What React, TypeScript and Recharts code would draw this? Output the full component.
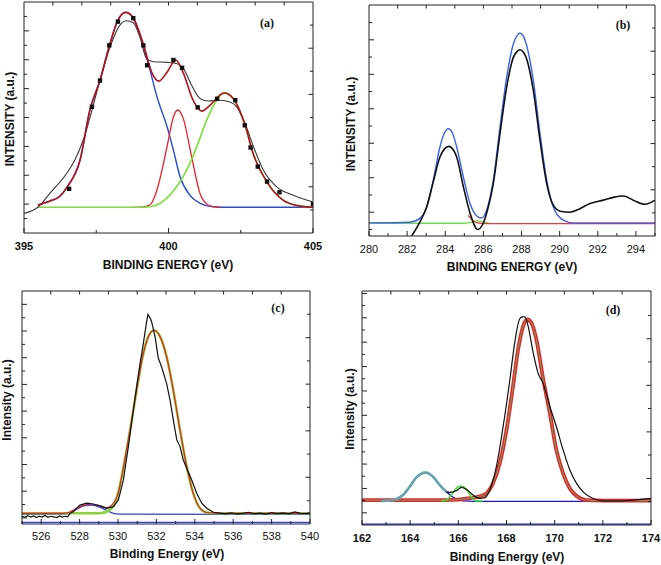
import React from 'react';
import { LineChart, Line, XAxis, YAxis, ReferenceLine } from 'recharts';

const W = 661;
const H = 565;
const FONT = 'Arial, "Liberation Sans", Helvetica, sans-serif';
const SERIF = '"Times New Roman", "Liberation Serif", serif';

// ---------------- (a) ----------------
const aEnvX = [395.48, 395.9, 396.25, 396.49, 396.94, 397.28, 397.63, 397.98, 398.25, 398.52, 398.77, 399.12, 399.43, 399.67, 399.95, 400.25, 400.5, 400.85, 401.15, 401.44, 401.92, 402.23, 402.65, 402.92, 403.41, 403.96, 404.55, 405.0];
const aEnvY = [0.97, 1.11, 1.28, 1.59, 2.53, 4.26, 5.29, 6.57, 7.37, 7.64, 7.47, 6.57, 5.54, 5.26, 5.57, 5.99, 5.57, 4.6, 4.22, 4.43, 4.85, 4.67, 3.74, 2.77, 1.76, 1.14, 0.93, 0.89];
const aBlueX = [395.48, 395.9, 396.25, 396.49, 396.94, 397.28, 397.63, 397.98, 398.25, 398.52, 398.77, 399.12, 399.36, 399.6, 399.95, 400.17, 400.4, 400.74, 401.09, 401.54, 402.0, 403.0, 404.0, 405.0];
const aBlueY = [0.97, 1.11, 1.28, 1.59, 2.53, 4.26, 5.29, 6.57, 7.37, 7.64, 7.45, 6.51, 5.64, 4.72, 3.68, 2.87, 1.95, 1.31, 1.03, 0.91, 0.89, 0.89, 0.89, 0.89];
const aRedX = [398.7, 398.94, 399.36, 399.6, 399.95, 400.17, 400.32, 400.51, 400.8, 401.09, 401.33, 401.54, 401.8];
const aRedY = [0.89, 0.89, 0.97, 1.49, 2.99, 4.02, 4.26, 3.97, 2.64, 1.37, 1.0, 0.91, 0.89];
const aGreenX = [395.5, 399.0, 399.4, 399.71, 400.28, 400.63, 400.98, 401.32, 401.67, 401.93, 402.24, 402.65, 402.93, 403.4, 403.97, 404.55, 405.0];
const aGreenY = [0.89, 0.89, 0.92, 1.03, 1.6, 2.18, 2.99, 3.91, 4.6, 4.86, 4.66, 3.74, 2.76, 1.78, 1.14, 0.93, 0.89];
const aBlackX = [395.0, 395.5, 395.9, 396.48, 396.76, 397.05, 397.63, 397.98, 398.32, 398.55, 398.78, 399.01, 399.24, 399.48, 399.94, 400.28, 400.51, 400.8, 401.09, 401.38, 401.78, 402.13, 402.36, 402.65, 402.94, 403.28, 403.74, 404.32, 404.98];
const aBlackY = [0.68, 0.91, 1.38, 2.07, 2.53, 3.22, 5.29, 6.45, 7.2, 7.35, 7.28, 6.79, 6.04, 5.93, 5.91, 5.87, 5.7, 5.12, 4.66, 4.57, 4.6, 4.54, 4.37, 3.79, 2.99, 2.18, 1.6, 1.31, 1.08];
const aDotX = [396.56, 397.35, 397.63, 397.95, 398.25, 398.78, 399.13, 399.26, 400.17, 400.47, 401.01, 401.68, 402.31, 402.64, 402.84, 403.09, 403.41, 403.84, 405.0];
const aDotY = [1.53, 4.37, 5.28, 6.5, 7.32, 7.44, 6.5, 5.81, 5.99, 5.72, 4.35, 4.65, 4.6, 3.73, 2.96, 2.3, 1.78, 1.41, 1.0];
const aBottomTicks = [395, 397.5, 400, 402.5, 405];
const aTopTicks = [396, 397, 398, 399, 400, 401, 402, 403, 404];
const aLeftTicks = [0.5, 1, 1.5, 2, 2.5, 3, 3.5, 4, 4.5, 5, 5.5, 6, 6.5, 7, 7.5];
const aRightTicks = [0.8, 1.6, 2.4, 3.2, 4.0, 4.8, 5.6, 6.4, 7.2];

// ---------------- (b) ----------------
const bBlueX = [280, 282.15, 282.67, 283.03, 283.37, 283.72, 283.95, 284.16, 284.38, 284.6, 284.95, 285.3, 285.65, 285.91, 286.17, 286.52, 286.87, 287.22, 287.57, 287.75, 287.92, 288.1, 288.27, 288.62, 288.97, 289.32, 289.66, 290.19, 290.71, 295];
const bBlueY = [0.38, 0.4, 0.51, 0.85, 1.62, 2.58, 2.98, 3.11, 2.98, 2.58, 1.71, 0.94, 0.58, 0.52, 0.75, 1.62, 3.16, 4.6, 5.57, 5.8, 5.88, 5.8, 5.52, 4.51, 2.97, 1.62, 0.85, 0.46, 0.38, 0.38];
const bBlackX = [282.24, 282.67, 283.03, 283.37, 283.72, 283.95, 284.19, 284.42, 284.6, 284.95, 285.3, 285.7, 285.99, 286.26, 286.52, 286.87, 287.22, 287.57, 287.75, 287.92, 288.1, 288.27, 288.62, 288.97, 289.32, 289.66, 290.02, 290.54, 290.98, 291.59, 292.29, 292.81, 293.34, 293.86, 294.47, 295.0];
const bBlackY = [0.0, 0.41, 0.85, 1.57, 2.29, 2.52, 2.6, 2.5, 2.29, 1.43, 0.66, 0.19, 0.37, 0.85, 1.52, 2.97, 4.32, 5.18, 5.34, 5.4, 5.33, 5.13, 4.22, 2.77, 1.52, 0.9, 0.72, 0.69, 0.77, 0.94, 1.04, 1.12, 1.16, 1.04, 0.92, 1.04];
const bGreenX = [280, 285.0, 285.4, 285.65, 285.9, 286.3];
const bGreenY = [0.37, 0.37, 0.4, 0.44, 0.42, 0.37];
const bRedX = [285.2, 285.45, 285.7, 286.0, 290.8, 295];
const bRedY = [0.6, 0.45, 0.38, 0.36, 0.36, 0.36];
const bBottomTicks = [280, 281, 282, 283, 284, 285, 286, 287, 288, 289, 290, 291, 292, 293, 294, 295];
const bTopTicks = [281.5, 283, 284.5, 286, 287.5, 289, 290.5, 292, 293.5];
const bLeftTicks = [0.19, 0.69, 1.19, 1.69, 2.19, 2.69, 3.19, 3.69, 4.19, 4.69, 5.19, 5.69, 6.19];
const bRightTicks = [0.67, 1.34, 2.01, 2.68, 3.35, 4.02, 4.69, 5.36, 6.03];

// ---------------- (c) ----------------
const cBlackX = [525.0, 525.15, 525.3, 525.45, 525.6, 525.75, 525.9, 526.05, 526.2, 526.35, 526.5, 526.65, 526.8, 526.95, 527.1, 527.25, 527.38, 527.5, 527.67, 528.02, 528.37, 528.72, 529.06, 529.41, 529.76, 530.02, 530.28, 530.54, 530.8, 530.97, 531.15, 531.32, 531.49, 531.56, 531.63, 531.7, 531.75, 531.93, 532.1, 532.27, 532.53, 532.71, 532.88, 533.06, 533.23, 533.4, 533.58, 533.84, 534.1, 534.36, 534.62, 534.97, 535.3, 535.6, 535.9, 536.2, 536.5, 536.8, 537.1, 537.4, 537.7, 538.0, 538.3, 538.6, 538.9, 539.2, 539.5, 539.8, 540.0];
const cBlackY = [0.06, 0.02, 0.08, 0.03, 0.07, 0.01, 0.06, 0.03, 0.09, 0.02, 0.06, 0.04, 0.01, 0.07, 0.03, 0.06, 0.04, 0.17, 0.23, 0.48, 0.55, 0.52, 0.45, 0.36, 0.42, 0.67, 1.42, 2.67, 4.04, 4.92, 5.79, 6.54, 7.35, 7.62, 7.54, 7.45, 7.35, 6.79, 5.98, 5.66, 5.04, 4.42, 3.67, 2.92, 2.67, 2.17, 1.86, 1.42, 0.92, 0.55, 0.36, 0.21, 0.18, 0.15, 0.19, 0.14, 0.17, 0.21, 0.15, 0.18, 0.14, 0.2, 0.16, 0.19, 0.15, 0.22, 0.17, 0.16, 0.19];
const cGreenX = [525, 529.06, 529.58, 529.93, 530.28, 530.63, 530.97, 531.32, 531.58, 531.88, 532.19, 532.53, 532.88, 533.23, 533.58, 533.92, 534.27, 534.62, 535.2, 540];
const cGreenY = [0.17, 0.17, 0.3, 0.73, 1.86, 3.29, 4.78, 6.16, 6.79, 7.03, 6.79, 6.04, 4.78, 3.29, 1.92, 0.92, 0.36, 0.2, 0.17, 0.17];
const cRedX = [525, 527.15, 527.41, 527.85, 528.28, 528.63, 529.06, 529.41, 529.76, 530.02, 530.28, 530.63, 530.97, 531.32, 531.58, 531.88, 532.19, 532.53, 532.88, 533.23, 533.58, 533.92, 534.27, 534.62, 535.2, 540];
const cRedY = [0.17, 0.17, 0.2, 0.36, 0.49, 0.51, 0.45, 0.38, 0.55, 0.95, 1.9, 3.3, 4.78, 6.16, 6.79, 7.03, 6.79, 6.04, 4.78, 3.29, 1.92, 0.92, 0.36, 0.2, 0.17, 0.17];
const cBlueX = [525, 527.33, 527.6, 527.85, 528.28, 528.63, 529.06, 529.41, 529.76, 530.1, 540];
const cBlueY = [0.13, 0.14, 0.22, 0.33, 0.46, 0.48, 0.4, 0.28, 0.17, 0.14, 0.13];
const cBottomTicks = [525, 526, 527, 528, 529, 530, 531, 532, 533, 534, 535, 536, 537, 538, 539, 540];
const cTopTicks = [526.5, 528, 529.5, 531, 532.5, 534, 535.5, 537, 538.5];
const cLeftTicks = [0, 0.5, 1, 1.5, 2, 2.5, 3, 3.5, 4, 4.5, 5, 5.5, 6, 6.5, 7, 7.5, 8];
const cRightTicks = [0.64, 1.52, 2.39, 3.26, 4.14, 5.01, 5.88, 6.75, 7.63];

// ---------------- (d) ----------------
const dTealX = [162.8, 163.29, 163.7, 163.98, 164.26, 164.45, 164.63, 164.8, 164.95, 165.23, 165.5];
const dTealY = [0.49, 0.52, 0.73, 1.07, 1.45, 1.6, 1.65, 1.6, 1.48, 1.14, 0.86];
const dBlueX = [162, 163.0, 163.29, 163.7, 163.98, 164.26, 164.45, 164.63, 164.8, 164.95, 165.23, 165.5, 165.64, 165.92, 166.2, 166.6, 174];
const dBlueY = [0.47, 0.48, 0.52, 0.73, 1.07, 1.45, 1.6, 1.65, 1.6, 1.48, 1.14, 0.86, 0.74, 0.56, 0.49, 0.47, 0.47];
const dGreenX = [165.3, 165.5, 165.71, 165.92, 166.0, 166.1, 166.2, 166.34, 166.54, 166.75, 167.0];
const dGreenY = [0.49, 0.52, 0.73, 1.0, 1.07, 1.1, 1.07, 0.96, 0.66, 0.49, 0.49];
const dRedX = [162, 165.5, 166.0, 166.5, 166.9, 167.17, 167.44, 167.72, 168.0, 168.27, 168.48, 168.69, 168.86, 169.04, 169.24, 169.52, 169.8, 170.07, 170.35, 170.63, 170.91, 171.32, 172, 174];
const dRedY = [0.52, 0.52, 0.54, 0.6, 0.68, 0.8, 1.21, 2.03, 3.4, 5.19, 6.69, 7.65, 7.93, 7.79, 7.11, 5.5, 4.09, 2.58, 1.62, 1.0, 0.69, 0.52, 0.5, 0.5];
const dBlackX = [165.5, 165.64, 165.92, 166.13, 166.34, 166.61, 166.89, 167.1, 167.3, 167.58, 167.86, 168.14, 168.34, 168.55, 168.66, 168.76, 168.9, 169.11, 169.31, 169.52, 169.8, 170.07, 170.35, 170.63, 170.91, 171.18, 171.6, 172.0, 172.84, 173.26, 174.0];
const dBlackY = [0.86, 0.84, 0.91, 1.04, 0.96, 0.73, 0.59, 0.62, 0.93, 1.89, 3.54, 5.46, 6.97, 7.96, 8.04, 8.04, 7.65, 6.56, 5.73, 5.32, 4.36, 3.54, 2.58, 1.76, 1.21, 0.86, 0.59, 0.49, 0.49, 0.52, 0.59];
const dBottomTicks = [162, 163, 164, 165, 166, 167, 168, 169, 170, 171, 172, 173, 174];
const dTopTicks = [163.2, 164.4, 165.6, 166.8, 168.0, 169.2, 170.4, 171.6, 172.8];
const dLeftTicks = [0, 0.5, 1, 1.5, 2, 2.5, 3, 3.5, 4, 4.5, 5, 5.5, 6, 6.5, 7, 7.5, 8, 8.5, 9];
const dRightTicks = [0.46, 1.41, 2.37, 3.32, 4.28, 5.23, 6.19, 7.14, 8.1];

type Pt = { x: number; y: number };
const zip = (xs: number[], ys: number[]): Pt[] => xs.map((x, i) => ({ x, y: ys[i] }));

type Side = 'bottom' | 'top' | 'left' | 'right';
type TickFont = { size: number; weight: number | string; dy: number };

const near = (a: number, b: number) => Math.abs(a - b) < 1e-3;
const isInt = (v: number) => near(v, Math.round(v));

function makeTick(
  side: Side,
  isMajor: (v: number, i: number) => boolean,
  label: ((v: number) => string | null) | null,
  font: TickFont | null,
  majorLen = 5,
  minorLen = 3
) {
  return (props: any) => {
    const { x, y, payload, index } = props;
    const v = payload.value as number;
    const len = isMajor(v, index) ? majorLen : minorLen;
    let x2 = x;
    let y2 = y;
    if (side === 'bottom') y2 = y - len;
    else if (side === 'top') y2 = y + len;
    else if (side === 'left') x2 = x + len;
    else x2 = x - len;
    const text = label ? label(v) : null;
    return (
      <g>
        <line x1={x} y1={y} x2={x2} y2={y2} stroke="#222" strokeWidth={1} />
        {text !== null && font && (
          <text
            x={x}
            y={y + font.dy}
            textAnchor="middle"
            fontFamily={FONT}
            fontSize={font.size}
            fontWeight={font.weight}
            fill="#111"
          >
            {text}
          </text>
        )}
      </g>
    );
  };
}

type Series = {
  data: Pt[];
  color: string;
  width: number;
  type?: 'monotone' | 'linear';
  dots?: boolean;
};

type PanelCfg = {
  box: [number, number, number, number];
  xDomain: [number, number];
  yDomain: [number, number];
  bottomTicks: number[];
  topTicks: number[];
  leftTicks: number[];
  rightTicks: number[];
  bottomMajor: (v: number, i: number) => boolean;
  bottomLabel: (v: number) => string | null;
  leftMajor: (v: number, i: number) => boolean;
  rightMajor: (v: number, i: number) => boolean;
  font: TickFont;
  series: Series[];
  refLines?: { y: number; color: string }[];
};

const Square = (p: any) => {
  if (p.cx == null || p.cy == null) return <g key={p.index} />;
  return <rect key={p.index} x={p.cx - 2.2} y={p.cy - 2.2} width={4.4} height={4.4} fill="#111" />;
};

function Panel({ cfg }: { cfg: PanelCfg }) {
  const [l, t, r, b] = cfg.box;
  const axisLine = { stroke: '#222', strokeWidth: 1 };
  return (
    <div style={{ position: 'absolute', left: 0, top: 0 }}>
      <LineChart width={W} height={H} margin={{ left: l - 1, top: t - 1, right: W - r - 1, bottom: H - b - 1 }}>
        <XAxis
          xAxisId="b"
          type="number"
          dataKey="x"
          domain={cfg.xDomain}
          allowDataOverflow
          ticks={cfg.bottomTicks}
          interval={0}
          height={1}
          tickSize={0}
          tickMargin={0}
          tickLine={false}
          axisLine={axisLine}
          tick={makeTick('bottom', cfg.bottomMajor, cfg.bottomLabel, cfg.font)}
        />
        <XAxis
          xAxisId="t"
          orientation="top"
          type="number"
          dataKey="x"
          domain={cfg.xDomain}
          allowDataOverflow
          ticks={cfg.topTicks}
          interval={0}
          height={1}
          tickSize={0}
          tickMargin={0}
          tickLine={false}
          axisLine={axisLine}
          tick={makeTick('top', () => true, null, null, 3.5, 3.5)}
        />
        <YAxis
          yAxisId="l"
          type="number"
          domain={cfg.yDomain}
          allowDataOverflow
          ticks={cfg.leftTicks}
          interval={0}
          width={1}
          tickSize={0}
          tickMargin={0}
          tickLine={false}
          axisLine={axisLine}
          tick={makeTick('left', cfg.leftMajor, null, null, 5, 3)}
        />
        <YAxis
          yAxisId="r"
          orientation="right"
          type="number"
          domain={cfg.yDomain}
          allowDataOverflow
          ticks={cfg.rightTicks}
          interval={0}
          width={1}
          tickSize={0}
          tickMargin={0}
          tickLine={false}
          axisLine={axisLine}
          tick={makeTick('right', cfg.rightMajor, null, null, 4.5, 3)}
        />
        {(cfg.refLines || []).map((rl, i) => (
          <ReferenceLine key={'rl' + i} xAxisId="b" yAxisId="l" y={rl.y} stroke={rl.color} strokeWidth={1.2} />
        ))}
        {cfg.series.map((s, i) => (
          <Line
            key={i}
            xAxisId="b"
            yAxisId="l"
            data={s.data}
            dataKey="y"
            type={s.type || 'monotone'}
            stroke={s.dots ? 'none' : s.color}
            strokeWidth={s.width}
            dot={s.dots ? Square : false}
            activeDot={false}
            isAnimationActive={false}
          />
        ))}
      </LineChart>
    </div>
  );
}

const panelA: PanelCfg = {
  box: [24, 2, 313, 233],
  xDomain: [395, 405],
  yDomain: [0, 8],
  bottomTicks: aBottomTicks,
  topTicks: aTopTicks,
  leftTicks: aLeftTicks,
  rightTicks: aRightTicks,
  bottomMajor: (v) => near(v % 5, 0),
  bottomLabel: (v) => (near(v % 5, 0) ? String(v) : null),
  leftMajor: (v) => isInt(v),
  rightMajor: (_v, i) => i % 2 === 1,
  font: { size: 11, weight: 'bold', dy: 17 },
  series: [
    { data: zip(aBlueX, aBlueY), color: '#2a4ad8', width: 1.4 },
    { data: zip(aRedX, aRedY), color: '#e8202a', width: 1.3 },
    { data: zip(aGreenX, aGreenY), color: '#7be03c', width: 1.6 },
    { data: zip(aBlackX, aBlackY), color: '#3a3a3a', width: 1.1 },
    { data: zip(aEnvX, aEnvY), color: '#b8101a', width: 1.6 },
    { data: zip(aDotX, aDotY), color: '#111', width: 1, dots: true },
  ],
};

const panelB: PanelCfg = {
  box: [369, 5, 655, 236],
  xDomain: [280, 295],
  yDomain: [0, 6.7],
  bottomTicks: bBottomTicks,
  topTicks: bTopTicks,
  leftTicks: bLeftTicks,
  rightTicks: bRightTicks,
  bottomMajor: (v) => v % 2 === 0,
  bottomLabel: (v) => (v % 2 === 0 && v < 295 ? String(v) : null),
  leftMajor: (_v, i) => i % 2 === 1,
  rightMajor: (_v, i) => i % 2 === 1,
  font: { size: 11, weight: 'normal', dy: 16.5 },
  series: [
    { data: zip(bGreenX, bGreenY), color: '#66e040', width: 1.3 },
    { data: zip(bRedX, bRedY), color: '#e83a3a', width: 1.3 },
    { data: zip(bBlueX, bBlueY), color: '#3d5ef0', width: 1.4 },
    { data: zip(bBlackX, bBlackY), color: '#111', width: 1.6 },
  ],
};

const panelC: PanelCfg = {
  box: [22, 291, 310, 524],
  xDomain: [525, 540],
  yDomain: [-0.23, 8.5],
  bottomTicks: cBottomTicks,
  topTicks: cTopTicks,
  leftTicks: cLeftTicks,
  rightTicks: cRightTicks,
  bottomMajor: (v) => v % 2 === 0,
  bottomLabel: (v) => (v % 2 === 0 ? String(v) : null),
  leftMajor: (v) => isInt(v),
  rightMajor: (_v, i) => i % 2 === 1,
  font: { size: 11, weight: 'normal', dy: 15.5 },
  refLines: [{ y: -0.17, color: '#3040e0' }],
  series: [
    { data: zip(cBlueX, cBlueY), color: '#2a40e8', width: 1.3 },
    { data: zip(cGreenX, cGreenY), color: '#8ad43a', width: 2.6 },
    { data: zip(cRedX, cRedY), color: '#e0262a', width: 1.2 },
    { data: zip(cBlackX, cBlackY), color: '#111', width: 1.2, type: 'linear' },
  ],
};

const panelD: PanelCfg = {
  box: [362, 291, 651, 525],
  xDomain: [162, 174],
  yDomain: [-0.5, 9.1],
  bottomTicks: dBottomTicks,
  topTicks: dTopTicks,
  leftTicks: dLeftTicks,
  rightTicks: dRightTicks,
  bottomMajor: (v) => v % 2 === 0,
  bottomLabel: (v) => (v % 2 === 0 ? String(v) : null),
  leftMajor: (v) => isInt(v),
  rightMajor: (_v, i) => i % 2 === 1,
  font: { size: 11, weight: 'bold', dy: 17 },
  refLines: [{ y: -0.46, color: '#1a1ae8' }],
  series: [
    { data: zip(dBlueX, dBlueY), color: '#1a1ae8', width: 1.4 },
    { data: zip(dRedX, dRedY), color: '#e82424', width: 3.8 },
    { data: zip(dRedX, dRedY), color: '#6aa86a', width: 1.0 },
    { data: zip(dGreenX, dGreenY), color: '#40e030', width: 1.6 },
    { data: zip(dTealX, dTealY), color: '#5aa5b5', width: 2.6 },
    { data: zip(dTealX, dTealY), color: '#8a9a9a', width: 0.8 },
    { data: zip(dBlackX, dBlackY), color: '#111', width: 1.2 },
  ],
};

const titleStyle = { fontFamily: FONT, fontWeight: 'bold' as const, fontSize: 12, fill: '#111' };
const letterStyle = { fontFamily: SERIF, fontWeight: 'bold' as const, fontSize: 12, fill: '#111' };

function VTitle({ cx, cy, text }: { cx: number; cy: number; text: string }) {
  return (
    <text transform={`translate(${cx},${cy}) rotate(-90)`} x={0} y={4.2} textAnchor="middle" {...titleStyle}>
      {text}
    </text>
  );
}

export default function App() {
  return (
    <div style={{ position: 'absolute', left: 0, top: 0, width: W, height: H, background: '#fff', overflow: 'hidden' }}>
      <Panel cfg={panelA} />
      <Panel cfg={panelB} />
      <Panel cfg={panelC} />
      <Panel cfg={panelD} />
      <svg width={W} height={H} style={{ position: 'absolute', left: 0, top: 0, pointerEvents: 'none' }}>
        <text x={168} y={269} textAnchor="middle" {...titleStyle}>BINDING ENERGY (eV)</text>
        <text x={512} y={271} textAnchor="middle" {...titleStyle}>BINDING ENERGY (eV)</text>
        <text x={167} y={558} textAnchor="middle" {...titleStyle}>Binding Energy (eV)</text>
        <text x={507} y={561} textAnchor="middle" {...titleStyle}>Binding Energy (eV)</text>
        <VTitle cx={10} cy={119} text="INTENSITY (a.u.)" />
        <VTitle cx={351} cy={124} text="INTENSITY (a.u.)" />
        <VTitle cx={7} cy={400} text="Intensity (a.u.)" />
        <VTitle cx={350} cy={409} text="Intensity (a.u.)" />
        <text x={267} y={27} textAnchor="middle" {...letterStyle}>(a)</text>
        <text x={623} y={29} textAnchor="middle" {...letterStyle}>(b)</text>
        <text x={278} y={312} textAnchor="middle" {...letterStyle}>(c)</text>
        <text x={613} y={314} textAnchor="middle" {...letterStyle}>(d)</text>
      </svg>
    </div>
  );
}
